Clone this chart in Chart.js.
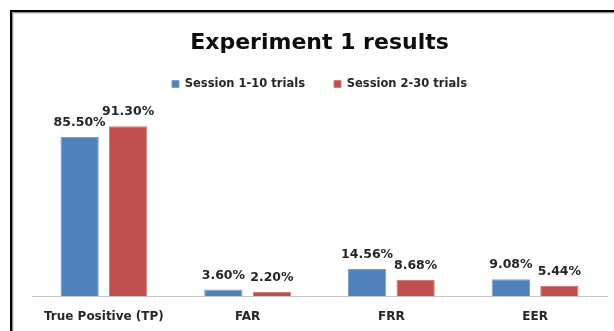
<!DOCTYPE html>
<html>
<head>
<meta charset="utf-8">
<script src="https://cdn.jsdelivr.net/npm/chart.js@4"></script>
<style>
  html, body { margin: 0; padding: 0; background: #fff; }
  .wrap { position: relative; width: 614px; height: 331px; overflow: hidden; }
  .frame {
    position: absolute; left: 10px; top: 10px; right: 0; bottom: 0;
    border-left: 2px solid #000; border-top: 2px solid #000;
    box-shadow: inset 1px 1px 0 #9a9a9a, inset 2px 2px 0 #d6d6d6;
  }
  canvas { position: absolute; left: 0; top: 0; }
</style>
</head>
<body>
<div class="wrap">
  <div class="frame"></div>
  <canvas id="chart" width="614" height="331"></canvas>
</div>
<script>
const categories = ["True Positive (TP)", "FAR", "FRR", "EER"];
const session1 = [85.5, 3.6, 14.56, 9.08];
const session2 = [91.3, 2.2, 8.68, 5.44];
const seriesNames = ["Session 1-10 trials", "Session 2-30 trials"];

const FONT = "'DejaVu Sans'";

// draws the value above each bar, like excel's "outside end" labels
const valueLabels = {
  id: "valueLabels",
  afterDatasetsDraw(chart) {
    const ctx = chart.ctx;
    ctx.save();
    ctx.font = "bold 12.5px " + FONT;
    ctx.fillStyle = "#262626";
    ctx.textAlign = "center";
    ctx.textBaseline = "middle";
    chart.data.datasets.forEach((ds, i) => {
      chart.getDatasetMeta(i).data.forEach((bar, j) => {
        ctx.fillText(ds.data[j].toFixed(2) + "%", bar.x, bar.y - 14);
      });
    });
    ctx.restore();
  },
};

new Chart(document.getElementById("chart"), {
  type: "bar",
  data: {
    labels: categories,
    datasets: [
      {
        label: seriesNames[0],
        data: session1,
        backgroundColor: "#4F81BD",
        borderColor: "#7C9FCB",
        borderWidth: 1,
        categoryPercentage: 0.675,
        barPercentage: 0.79,
      },
      {
        label: seriesNames[1],
        data: session2,
        backgroundColor: "#C0504D",
        borderColor: "#D07E7C",
        borderWidth: 1,
        categoryPercentage: 0.675,
        barPercentage: 0.79,
      },
    ],
  },
  options: {
    responsive: false,
    animation: false,
    layout: { padding: { top: 10, left: 32, right: 7, bottom: 0.5 } },
    plugins: {
      title: {
        display: true,
        text: "Experiment 1 results",
        color: "#0d0d0d",
        font: { family: FONT, size: 22, weight: "bold" },
        padding: { top: 20, bottom: -7.2 },
      },
      legend: {
        position: "top",
        labels: {
          boxWidth: 7,
          boxHeight: 7,
          padding: 29,
          color: "#262626",
          font: { family: FONT, size: 11.5, weight: "bold" },
        },
      },
      tooltip: { enabled: false },
    },
    scales: {
      y: { display: false, min: 0, max: 105.5 },
      x: {
        grid: { display: false },
        border: { display: true, color: "#c4c4c4", width: 1 },
        ticks: {
          color: "#262626",
          padding: 6,
          font: { family: FONT, size: 12, weight: "bold" },
        },
      },
    },
  },
  plugins: [valueLabels],
});
</script>
</body>
</html>
